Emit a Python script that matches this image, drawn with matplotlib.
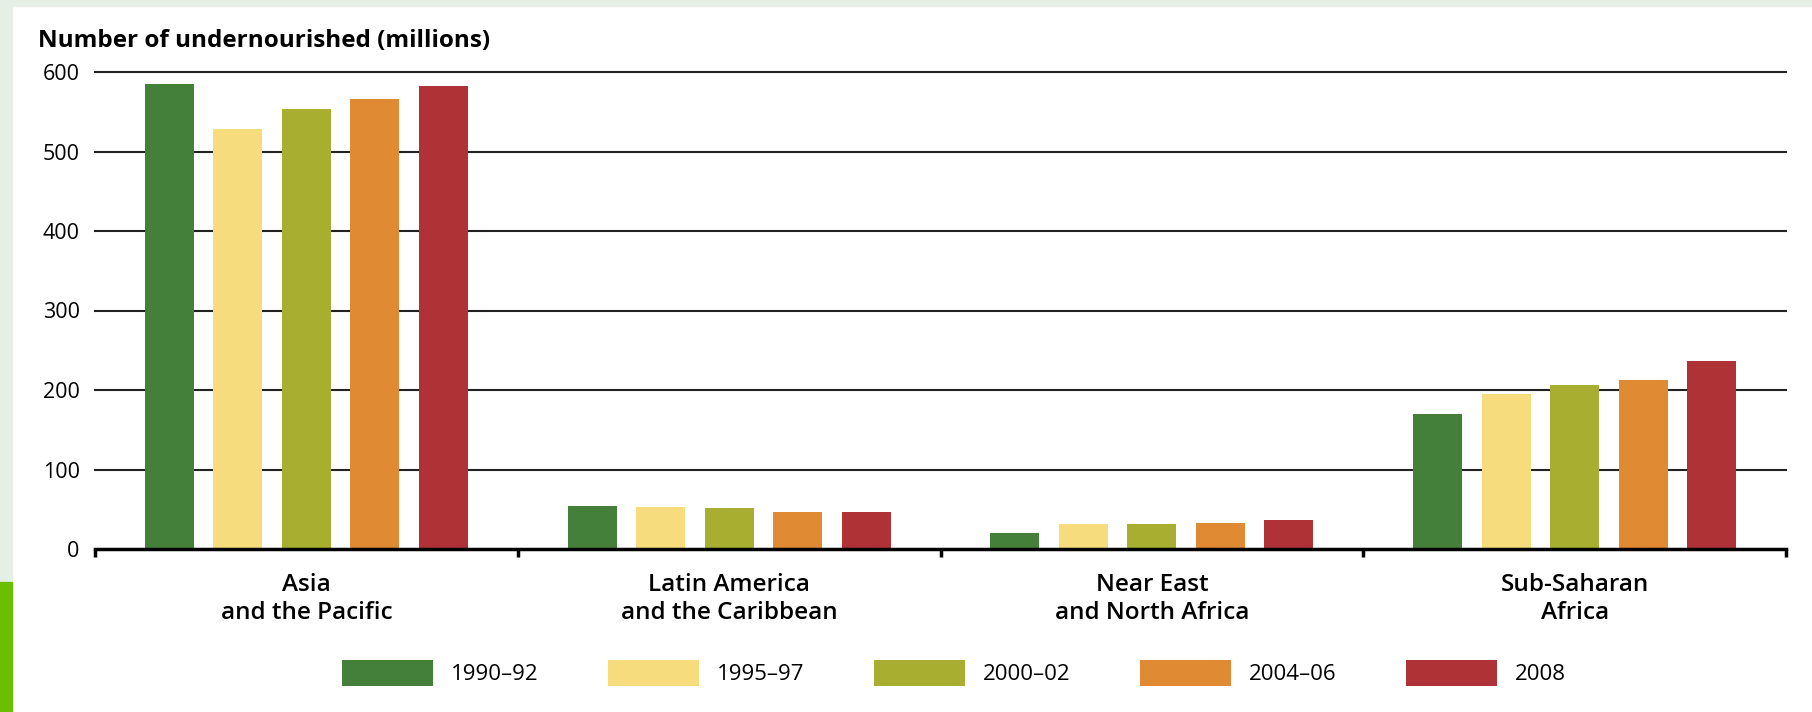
import matplotlib
matplotlib.use('Agg')
import matplotlib.pyplot as plt
import numpy as np
from matplotlib.patches import Rectangle, Patch

plt.rcParams['font.family'] = ['Open Sans', 'DejaVu Sans']

regions = ['Asia\nand the Pacific', 'Latin America\nand the Caribbean',
           'Near East\nand North Africa', 'Sub-Saharan\nAfrica']
periods = ['1990\u201392', '1995\u201397', '2000\u201302', '2004\u201306', '2008']
values = {
    '1990\u201392': [585, 54, 20, 170],
    '1995\u201397': [528, 53, 31, 195],
    '2000\u201302': [553, 51, 31, 206],
    '2004\u201306': [566, 47, 33, 212],
    '2008': [582, 47, 37, 237],
}
color_list = ['#44803A', '#F6DC7C', '#A8AE2F', '#E08A33', '#AE3236']
yticks = [0, 100, 200, 300, 400, 500, 600]

fig = plt.figure(figsize=(18.12, 7.12), dpi=100)
fig.patch.set_facecolor('white')

# page decoration strips
fig.patches.append(Rectangle((0, 1 - 6/712), 1, 6/712, transform=fig.transFigure,
                             color='#E6EFE6', zorder=0))
fig.patches.append(Rectangle((0, 130/712), 12/1812, 1 - 130/712, transform=fig.transFigure,
                             color='#E6EFE6', zorder=0))
fig.patches.append(Rectangle((0, 0), 12/1812, 130/712, transform=fig.transFigure,
                             color='#6BBF00', zorder=0))

ax = fig.add_axes([95/1812, 1 - 549/712, (1786 - 95)/1812, (549 - 72)/712])

x = np.arange(len(regions))
bw = 0.116
step = 0.162
for i, p in enumerate(periods):
    ax.bar(x + (i - 2) * step, values[p], width=bw, color=color_list[i], zorder=3)

for t in yticks[1:]:
    ax.axhline(t, color='#222222', lw=1.5, zorder=1, clip_on=False)

ax.set_xlim(-0.5, len(regions) - 0.5)
ax.set_ylim(0, 600)
ax.set_yticks(yticks)
ax.tick_params(axis='y', length=0, pad=11, labelsize=15.5)

ax.set_xticks(np.arange(len(regions) + 1) - 0.5)
ax.set_xticklabels([])
ax.tick_params(axis='x', which='major', length=6, width=2.5, direction='out', color='black')
ax.set_xticks(x, minor=True)
ax.set_xticklabels(regions, minor=True, fontsize=17.5, fontweight='semibold', linespacing=1.25)
ax.tick_params(axis='x', which='minor', length=0, pad=17)

for s in ['top', 'right', 'left']:
    ax.spines[s].set_visible(False)
ax.spines['bottom'].set_linewidth(2.5)
ax.spines['bottom'].set_zorder(4)

fig.text(38/1812, 1 - 41/712, 'Number of undernourished (millions)', fontsize=17.5,
         fontweight='bold', va='center', ha='left')

handles = [Patch(facecolor=color_list[i], label=p) for i, p in enumerate(periods)]
fig.legend(handles=handles, loc='center', bbox_to_anchor=(0.5265, 1 - 673/712), ncol=5,
           frameon=False, fontsize=16, handlelength=4.1, handleheight=1.45,
           handletextpad=0.78, columnspacing=3.15)

plt.savefig('out.png', dpi=100)
